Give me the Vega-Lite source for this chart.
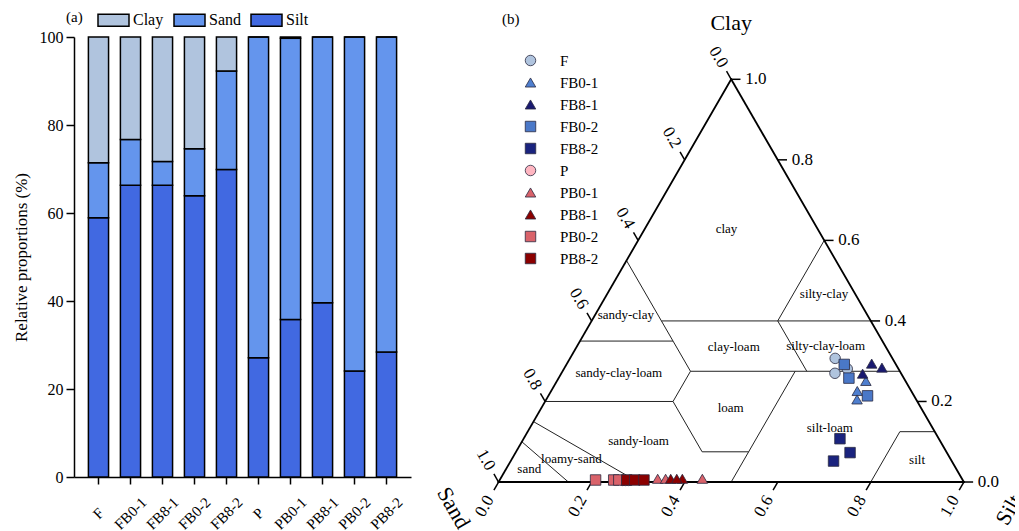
{
  "$schema": "https://vega.github.io/schema/vega-lite/v6.json",
  "padding": {"left": 12, "top": 3, "right": 0, "bottom": 0},
  "config": {
    "view": {"stroke": null},
    "font": "Liberation Serif, DejaVu Serif, serif",
    "axis": {"labelFont": "Liberation Serif, DejaVu Serif, serif", "titleFont": "Liberation Serif, DejaVu Serif, serif", "labelColor": "black", "titleColor": "black", "domainColor": "black", "tickColor": "black", "grid": false},
    "legend": {"labelFont": "Liberation Serif, DejaVu Serif, serif", "titleFont": "Liberation Serif, DejaVu Serif, serif", "labelColor": "black", "titleColor": "black"},
    "text": {"font": "Liberation Serif, DejaVu Serif, serif"}
  },
  "resolve": {"scale": {"color": "independent", "shape": "independent"}, "legend": {"color": "independent", "shape": "independent"}},
  "datasets": {
    "bars": [
      {"sample": "F", "fraction": "Silt", "value": 58.9}, {"sample": "F", "fraction": "Sand", "value": 12.5}, {"sample": "F", "fraction": "Clay", "value": 28.6},
      {"sample": "FB0-1", "fraction": "Silt", "value": 66.3}, {"sample": "FB0-1", "fraction": "Sand", "value": 10.4}, {"sample": "FB0-1", "fraction": "Clay", "value": 23.3},
      {"sample": "FB8-1", "fraction": "Silt", "value": 66.3}, {"sample": "FB8-1", "fraction": "Sand", "value": 5.4}, {"sample": "FB8-1", "fraction": "Clay", "value": 28.3},
      {"sample": "FB0-2", "fraction": "Silt", "value": 63.9}, {"sample": "FB0-2", "fraction": "Sand", "value": 10.7}, {"sample": "FB0-2", "fraction": "Clay", "value": 25.4},
      {"sample": "FB8-2", "fraction": "Silt", "value": 69.9}, {"sample": "FB8-2", "fraction": "Sand", "value": 22.4}, {"sample": "FB8-2", "fraction": "Clay", "value": 7.7},
      {"sample": "P", "fraction": "Silt", "value": 27.1}, {"sample": "P", "fraction": "Sand", "value": 72.9}, {"sample": "P", "fraction": "Clay", "value": 0},
      {"sample": "PB0-1", "fraction": "Silt", "value": 35.8}, {"sample": "PB0-1", "fraction": "Sand", "value": 63.9}, {"sample": "PB0-1", "fraction": "Clay", "value": 0.3},
      {"sample": "PB8-1", "fraction": "Silt", "value": 39.6}, {"sample": "PB8-1", "fraction": "Sand", "value": 60.4}, {"sample": "PB8-1", "fraction": "Clay", "value": 0},
      {"sample": "PB0-2", "fraction": "Silt", "value": 24.1}, {"sample": "PB0-2", "fraction": "Sand", "value": 75.9}, {"sample": "PB0-2", "fraction": "Clay", "value": 0},
      {"sample": "PB8-2", "fraction": "Silt", "value": 28.4}, {"sample": "PB8-2", "fraction": "Sand", "value": 71.6}, {"sample": "PB8-2", "fraction": "Clay", "value": 0}
    ],
    "segs": [
      {"kind": "edge", "c1": 0, "s1": 0, "c2": 0, "s2": 1},
      {"kind": "edge", "c1": 0, "s1": 1, "c2": 1, "s2": 0},
      {"kind": "edge", "c1": 1, "s1": 0, "c2": 0, "s2": 0},
      {"kind": "boundary", "c1": 0.55, "s1": 0, "c2": 0.40, "s2": 0.15},
      {"kind": "boundary", "c1": 0.40, "s1": 0.15, "c2": 0.40, "s2": 0.60},
      {"kind": "boundary", "c1": 0.40, "s1": 0.40, "c2": 0.60, "s2": 0.40},
      {"kind": "boundary", "c1": 0.35, "s1": 0, "c2": 0.35, "s2": 0.20},
      {"kind": "boundary", "c1": 0.35, "s1": 0.20, "c2": 0.40, "s2": 0.15},
      {"kind": "boundary", "c1": 0.20, "s1": 0, "c2": 0.20, "s2": 0.275},
      {"kind": "boundary", "c1": 0.20, "s1": 0.275, "c2": 0.275, "s2": 0.275},
      {"kind": "boundary", "c1": 0.275, "s1": 0.275, "c2": 0.35, "s2": 0.20},
      {"kind": "boundary", "c1": 0.275, "s1": 0.275, "c2": 0.275, "s2": 0.725},
      {"kind": "boundary", "c1": 0.275, "s1": 0.525, "c2": 0.40, "s2": 0.40},
      {"kind": "boundary", "c1": 0.20, "s1": 0.275, "c2": 0.075, "s2": 0.40},
      {"kind": "boundary", "c1": 0.075, "s1": 0.40, "c2": 0.075, "s2": 0.50},
      {"kind": "boundary", "c1": 0, "s1": 0.50, "c2": 0.275, "s2": 0.50},
      {"kind": "boundary", "c1": 0, "s1": 0.80, "c2": 0.125, "s2": 0.80},
      {"kind": "boundary", "c1": 0.125, "s1": 0.80, "c2": 0.125, "s2": 0.875},
      {"kind": "boundary", "c1": 0.15, "s1": 0, "c2": 0, "s2": 0.30},
      {"kind": "boundary", "c1": 0.10, "s1": 0, "c2": 0, "s2": 0.15}
    ],
    "ticks": [
      {"axis": "bottom", "v": 0}, {"axis": "bottom", "v": 0.2}, {"axis": "bottom", "v": 0.4}, {"axis": "bottom", "v": 0.6}, {"axis": "bottom", "v": 0.8}, {"axis": "bottom", "v": 1},
      {"axis": "left", "v": 0}, {"axis": "left", "v": 0.2}, {"axis": "left", "v": 0.4}, {"axis": "left", "v": 0.6}, {"axis": "left", "v": 0.8}, {"axis": "left", "v": 1},
      {"axis": "right", "v": 0}, {"axis": "right", "v": 0.2}, {"axis": "right", "v": 0.4}, {"axis": "right", "v": 0.6}, {"axis": "right", "v": 0.8}, {"axis": "right", "v": 1}
    ],
    "regions": [
      {"name": "clay", "clay": 0.628, "silt": 0.176},
      {"name": "sandy-clay", "clay": 0.415, "silt": 0.066},
      {"name": "silty-clay", "clay": 0.467, "silt": 0.466},
      {"name": "sandy-clay-loam", "clay": 0.271, "silt": 0.123},
      {"name": "clay-loam", "clay": 0.335, "silt": 0.338},
      {"name": "silty-clay-loam", "clay": 0.338, "silt": 0.534},
      {"name": "loam", "clay": 0.184, "silt": 0.407},
      {"name": "silt-loam", "clay": 0.134, "silt": 0.645},
      {"name": "sandy-loam", "clay": 0.102, "silt": 0.250},
      {"name": "loamy-sand", "clay": 0.057, "silt": 0.128},
      {"name": "sand", "clay": 0.032, "silt": 0.050},
      {"name": "silt", "clay": 0.055, "silt": 0.872}
    ],
    "titles": [
      {"name": "Clay", "x": 0.5, "y": 0.987},
      {"name": "Sand", "x": -0.097, "y": -0.056},
      {"name": "Silt", "x": 1.097, "y": -0.060},
      {"name": "(b)", "x": 0.026, "y": 0.996}
    ],
    "pts": [
      {"sample": "F", "clay": 0.307, "silt": 0.570}, {"sample": "F", "clay": 0.270, "silt": 0.588}, {"sample": "F", "clay": 0.281, "silt": 0.609},
      {"sample": "FB0-1", "clay": 0.226, "silt": 0.658}, {"sample": "FB0-1", "clay": 0.205, "silt": 0.668}, {"sample": "FB0-1", "clay": 0.251, "silt": 0.664},
      {"sample": "FB8-1", "clay": 0.294, "silt": 0.655}, {"sample": "FB8-1", "clay": 0.284, "silt": 0.682}, {"sample": "FB8-1", "clay": 0.269, "silt": 0.648},
      {"sample": "FB0-2", "clay": 0.292, "silt": 0.597}, {"sample": "FB0-2", "clay": 0.258, "silt": 0.624}, {"sample": "FB0-2", "clay": 0.214, "silt": 0.686},
      {"sample": "FB8-2", "clay": 0.1075, "silt": 0.680}, {"sample": "FB8-2", "clay": 0.073, "silt": 0.719}, {"sample": "FB8-2", "clay": 0.052, "silt": 0.694},
      {"sample": "P", "clay": 0.004, "silt": 0.265}, {"sample": "P", "clay": 0.004, "silt": 0.271}, {"sample": "P", "clay": 0.004, "silt": 0.277},
      {"sample": "PB0-1", "clay": 0.008, "silt": 0.338}, {"sample": "PB0-1", "clay": 0.008, "silt": 0.434}, {"sample": "PB0-1", "clay": 0.008, "silt": 0.355},
      {"sample": "PB8-1", "clay": 0.008, "silt": 0.366}, {"sample": "PB8-1", "clay": 0.008, "silt": 0.391}, {"sample": "PB8-1", "clay": 0.008, "silt": 0.379},
      {"sample": "PB0-2", "clay": 0.005, "silt": 0.206}, {"sample": "PB0-2", "clay": 0.005, "silt": 0.245}, {"sample": "PB0-2", "clay": 0.005, "silt": 0.256},
      {"sample": "PB8-2", "clay": 0.005, "silt": 0.273}, {"sample": "PB8-2", "clay": 0.005, "silt": 0.290}, {"sample": "PB8-2", "clay": 0.005, "silt": 0.310}
    ]
  },
  "spacing": 55,
  "bounds": "flush",
  "hconcat": [
    {
      "width": 337,
      "height": 440,
      "data": {"name": "bars"},
      "mark": {"type": "bar", "stroke": "black", "strokeWidth": 1.5},
      "encoding": {
        "x": {
          "field": "sample", "type": "nominal",
          "sort": ["F", "FB0-1", "FB8-1", "FB0-2", "FB8-2", "P", "PB0-1", "PB8-1", "PB0-2", "PB8-2"],
          "scale": {"paddingInner": 0.37, "paddingOuter": 0.45},
          "axis": {
            "title": null, "labelAngle": -45, "labelAlign": "center", "labelBaseline": "middle",
            "labelPadding": 29, "tickSize": 7, "labelFontSize": 15, "domainWidth": 1.5, "tickWidth": 1.5,
            "encode": {"labels": {"update": {
              "dx": {"signal": "-2.6*(length(datum.label)-5)"},
              "dy": {"signal": "2.6*(length(datum.label)-5)"}
            }}}
          }
        },
        "y": {
          "field": "value", "type": "quantitative", "stack": "zero",
          "scale": {"domain": [0, 100], "nice": false},
          "axis": {"title": "Relative proportions (%)", "values": [0, 20, 40, 60, 80, 100], "titleFontSize": 17, "titleFontWeight": "normal", "titlePadding": 9, "tickSize": 8, "labelFontSize": 16, "labelPadding": 3, "domainWidth": 1.5, "tickWidth": 1.5}
        },
        "color": {
          "field": "fraction", "type": "nominal",
          "scale": {"domain": ["Clay", "Sand", "Silt"], "range": ["#b0c4de", "#6495ed", "#4169e1"]},
          "legend": {"orient": "none", "legendX": -8, "legendY": -33.5, "direction": "horizontal", "title": "(a)", "titleOrient": "left", "titleFontSize": 15, "titleFontWeight": "normal", "titlePadding": 14, "titleBaseline": "middle", "titleAnchor": "middle", "symbolType": "M-1,-0.39H1V0.39H-1Z", "symbolSize": 961, "symbolStrokeColor": "black", "symbolStrokeWidth": 1.5, "symbolOpacity": 1, "labelFontSize": 16, "labelOffset": 3, "columnPadding": 7}
        },
        "order": {"field": "fraction", "sort": "descending"}
      }
    },
    {
      "width": 549,
      "height": 495,
      "encoding": {
        "x": {"field": "x", "type": "quantitative", "scale": {"domain": [-0.07, 1.11], "nice": false, "zero": false}, "axis": null},
        "y": {"field": "y", "type": "quantitative", "scale": {"domain": [-0.1075, 0.957], "nice": false, "zero": false}, "axis": null}
      },
      "layer": [
        {
          "data": {"name": "segs"},
          "transform": [
            {"filter": "datum.kind == 'boundary'"},
            {"calculate": "datum.s1 + datum.c1/2", "as": "x"},
            {"calculate": "datum.c1*0.8660254", "as": "y"},
            {"calculate": "datum.s2 + datum.c2/2", "as": "xe"},
            {"calculate": "datum.c2*0.8660254", "as": "ye"}
          ],
          "mark": {"type": "rule", "stroke": "#222222", "strokeWidth": 1},
          "encoding": {"x2": {"field": "xe"}, "y2": {"field": "ye"}}
        },
        {
          "data": {"name": "segs"},
          "transform": [
            {"filter": "datum.kind == 'edge'"},
            {"calculate": "datum.s1 + datum.c1/2", "as": "x"},
            {"calculate": "datum.c1*0.8660254", "as": "y"},
            {"calculate": "datum.s2 + datum.c2/2", "as": "xe"},
            {"calculate": "datum.c2*0.8660254", "as": "ye"}
          ],
          "mark": {"type": "rule", "stroke": "black", "strokeWidth": 1.8, "strokeCap": "square"},
          "encoding": {"x2": {"field": "xe"}, "y2": {"field": "ye"}}
        },
        {
          "data": {"name": "ticks"},
          "transform": [
            {"calculate": "datum.axis=='bottom' ? datum.v : datum.axis=='right' ? 1-datum.v/2 : (1-datum.v)/2", "as": "bx"},
            {"calculate": "datum.axis=='bottom' ? 0 : datum.axis=='right' ? datum.v*0.8660254 : (1-datum.v)*0.8660254", "as": "by"},
            {"calculate": "datum.axis=='right' ? 1 : -0.5", "as": "ux"},
            {"calculate": "datum.axis=='bottom' ? -0.8660254 : datum.axis=='right' ? 0 : 0.8660254", "as": "uy"}
          ],
          "layer": [
            {
              "transform": [
                {"calculate": "datum.bx", "as": "x"},
                {"calculate": "datum.by", "as": "y"},
                {"calculate": "datum.bx + 0.02*datum.ux", "as": "xe"},
                {"calculate": "datum.by + 0.02*datum.uy", "as": "ye"}
              ],
              "mark": {"type": "rule", "stroke": "black", "strokeWidth": 1.5},
              "encoding": {"x2": {"field": "xe"}, "y2": {"field": "ye"}}
            },
            {
              "transform": [
                {"filter": "datum.axis=='bottom'"},
                {"calculate": "datum.bx + 0.06*datum.ux", "as": "x"},
                {"calculate": "datum.by + 0.06*datum.uy", "as": "y"}
              ],
              "mark": {"type": "text", "angle": 300, "fontSize": 17, "fill": "black", "align": "center", "baseline": "middle"},
              "encoding": {"text": {"field": "v", "type": "quantitative", "format": ".1f"}}
            },
            {
              "transform": [
                {"filter": "datum.axis=='left'"},
                {"calculate": "datum.bx + 0.055*datum.ux", "as": "x"},
                {"calculate": "datum.by + 0.055*datum.uy", "as": "y"}
              ],
              "mark": {"type": "text", "angle": 60, "fontSize": 17, "fill": "black", "align": "center", "baseline": "middle"},
              "encoding": {"text": {"field": "v", "type": "quantitative", "format": ".1f"}}
            },
            {
              "transform": [
                {"filter": "datum.axis=='right'"},
                {"calculate": "datum.bx + 0.03", "as": "x"},
                {"calculate": "datum.by", "as": "y"}
              ],
              "mark": {"type": "text", "fontSize": 17, "fill": "black", "align": "left", "baseline": "middle"},
              "encoding": {"text": {"field": "v", "type": "quantitative", "format": ".1f"}}
            }
          ]
        },
        {
          "data": {"name": "regions"},
          "transform": [
            {"calculate": "datum.silt + datum.clay/2", "as": "x"},
            {"calculate": "datum.clay*0.8660254", "as": "y"}
          ],
          "mark": {"type": "text", "fontSize": 13, "fill": "black", "align": "center", "baseline": "middle"},
          "encoding": {"text": {"field": "name", "type": "nominal"}}
        },
        {
          "data": {"name": "titles"},
          "transform": [{"filter": "datum.name == 'Clay'"}],
          "mark": {"type": "text", "fontSize": 22, "fill": "black", "align": "center", "baseline": "middle"},
          "encoding": {"text": {"field": "name", "type": "nominal"}}
        },
        {
          "data": {"name": "titles"},
          "transform": [{"filter": "datum.name == 'Sand'"}],
          "mark": {"type": "text", "fontSize": 22, "angle": 60, "fill": "black", "align": "center", "baseline": "middle"},
          "encoding": {"text": {"field": "name", "type": "nominal"}}
        },
        {
          "data": {"name": "titles"},
          "transform": [{"filter": "datum.name == 'Silt'"}],
          "mark": {"type": "text", "fontSize": 22, "angle": 300, "fill": "black", "align": "center", "baseline": "middle", "clip": true},
          "encoding": {"text": {"field": "name", "type": "nominal"}}
        },
        {
          "data": {"name": "titles"},
          "transform": [{"filter": "datum.name == '(b)'"}],
          "mark": {"type": "text", "fontSize": 15, "fill": "black", "align": "center", "baseline": "middle"},
          "encoding": {"text": {"field": "name", "type": "nominal"}}
        },
        {
          "data": {"name": "pts"},
          "transform": [
            {"calculate": "datum.silt + datum.clay/2", "as": "x"},
            {"calculate": "datum.clay*0.8660254", "as": "y"}
          ],
          "mark": {"type": "point", "filled": true, "size": 110, "opacity": 1, "stroke": "#2a2a40", "strokeWidth": 0.8},
          "encoding": {
            "color": {
              "field": "sample", "type": "nominal",
              "scale": {
                "domain": ["F", "FB0-1", "FB8-1", "FB0-2", "FB8-2", "P", "PB0-1", "PB8-1", "PB0-2", "PB8-2"],
                "range": ["#b0c4de", "#4f7fcf", "#191970", "#4a78c8", "#1a237e", "#ffb6c1", "#d9626a", "#8b0000", "#d9626a", "#8b0000"]
              },
              "legend": {"orient": "none", "legendX": 57, "legendY": 16, "title": null, "labelFontSize": 15, "rowPadding": 6, "symbolSize": 110, "labelOffset": 22, "symbolStrokeColor": "#2a2a40", "symbolStrokeWidth": 0.8, "symbolOpacity": 1}
            },
            "shape": {
              "field": "sample", "type": "nominal",
              "scale": {
                "domain": ["F", "FB0-1", "FB8-1", "FB0-2", "FB8-2", "P", "PB0-1", "PB8-1", "PB0-2", "PB8-2"],
                "range": ["circle", "triangle-up", "triangle-up", "square", "square", "circle", "triangle-up", "triangle-up", "square", "square"]
              }
            }
          }
        }
      ]
    }
  ]
}
